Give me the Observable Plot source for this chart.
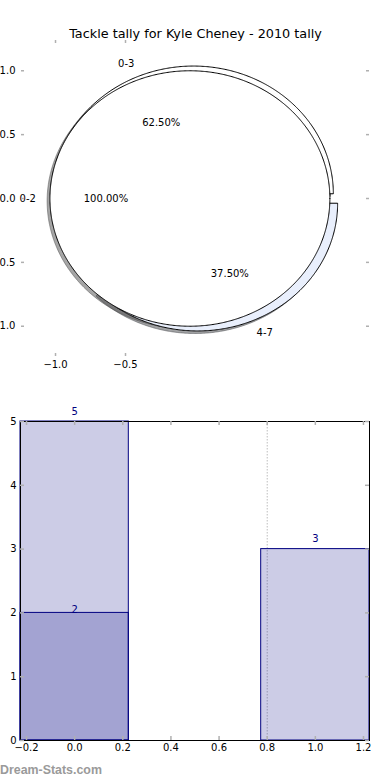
<!DOCTYPE html>
<html><head><meta charset="utf-8">
<script src="https://cdn.jsdelivr.net/npm/d3@7"></script>
<script src="https://cdn.jsdelivr.net/npm/@observablehq/plot@0.6"></script>
<style>
html,body{margin:0;padding:0;background:#fff;}
#wrap{position:relative;width:390px;height:780px;overflow:hidden;background:#fff;}
#top{position:absolute;left:0;top:0;}
#bottom{position:absolute;left:0;top:380px;}
#wm{position:absolute;left:0;top:762px;font:bold 12.4px "Liberation Sans",Arial,sans-serif;color:#9a9a9a;line-height:16px;white-space:nowrap;}
</style></head><body>
<div id="wrap"><div id="top"></div><div id="bottom"></div><div id="wm">Dream-Stats.com</div></div>
<script>
// ---- data ----
const title = "Tackle tally for Kyle Cheney - 2010 tally";
const pieALabels = ["0-2"];
const pieAValues = [2];
const pieAColors = ["#ffffff"];
const pieBLabels = ["0-3", "4-7"];
const pieBValues = [5, 3];
const pieBColors = ["#ffffff", "#e9effc"];
const barPositions = [0, 1];
const barLightValues = [5, 3];
const barDarkPositions = [0];
const barDarkValues = [2];
const pieXTicks = [-1.0, -0.5];
const pieYTicks = [-1.0, -0.5, 0.0, 0.5, 1.0];
const barXTicks = [-0.2, 0.0, 0.2, 0.4, 0.6, 0.8, 1.0, 1.2];
const barYTicks = [0, 1, 2, 3, 4, 5];
const gridX = [0.8];

// ---- settings ----
const EXPLODE = 0.04, SHADOW = 0.02, LABEL_DIST = 1.1, PCT_DIST = 0.6, BAR_W = 0.45;
const tickColor = "#b0b0b0";
const fmt = d => (d < 0 ? "\u2212" : "") + Math.abs(d).toFixed(1);

function pieLayout(labels, values, colors) {
  const total = d3.sum(values);
  let acc = 0;
  return labels.map((label, i) => {
    const frac = values[i] / total;
    const t0 = acc * 360, t1 = (acc + frac) * 360;
    acc += frac;
    const tm = (t0 + t1) / 2 * Math.PI / 180;
    const cx = EXPLODE * Math.cos(tm), cy = EXPLODE * Math.sin(tm);
    const c = d3.rgb(colors[i]);
    return {
      label, frac, t0, t1, cx, cy, full: frac > 0.9999, color: colors[i],
      shadow: d3.rgb(c.r * 0.3, c.g * 0.3, c.b * 0.3).formatHex(),
      lx: cx + LABEL_DIST * Math.cos(tm), ly: cy + LABEL_DIST * Math.sin(tm),
      px: cx + PCT_DIST * Math.cos(tm), py: cy + PCT_DIST * Math.sin(tm)
    };
  });
}
function wedgePoints(w, ox, oy) {
  const cx = w.cx + ox, cy = w.cy + oy;
  const n = Math.max(2, Math.ceil((w.t1 - w.t0) * 2));
  const pts = [];
  if (!w.full) pts.push({x: cx, y: cy});
  for (let i = 0; i <= n; i++) {
    const t = (w.t0 + (w.t1 - w.t0) * i / n) * Math.PI / 180;
    pts.push({x: cx + Math.cos(t), y: cy + Math.sin(t)});
  }
  if (!w.full) pts.push({x: cx, y: cy});
  return pts;
}

const A = pieLayout(pieALabels, pieAValues, pieAColors);
const B = pieLayout(pieBLabels, pieBValues, pieBColors);
const drawOrder = [...B, ...A];
const allW = [...A, ...B];

const W1 = 390 - 21 - 21, H1 = 380 - 40 - 24;
const topPlot = Plot.plot({
  width: 390, height: 380,
  marginLeft: 21, marginRight: 21, marginTop: 40, marginBottom: 24,
  x: {domain: [-1.243, 1.243], axis: null},
  y: {domain: [-1.237, 1.237], axis: null},
  style: {fontFamily: "DejaVu Sans", fontSize: "10px", background: "white", overflow: "visible"},
  marks: [
    ...drawOrder.map(w => Plot.line(wedgePoints(w, -SHADOW, -SHADOW), {x: "x", y: "y", curve: "linear", fill: w.shadow, fillOpacity: 0.5, stroke: w.shadow, strokeOpacity: 0.5, strokeWidth: 1})),
    ...drawOrder.map(w => Plot.line(wedgePoints(w, 0, 0), {x: "x", y: "y", curve: "linear", fill: w.color, stroke: "black", strokeWidth: 1})),
    Plot.text(allW.filter(w => w.lx < 0), {x: "lx", y: "ly", text: "label", textAnchor: "end"}),
    Plot.text(allW.filter(w => w.lx >= 0), {x: "lx", y: "ly", text: "label", textAnchor: "start"}),
    Plot.text(allW, {x: "px", y: "py", text: w => (w.frac * 100).toFixed(2) + "%"}),
    Plot.ruleX(pieXTicks, {insetBottom: H1 - 3, stroke: tickColor, strokeWidth: 1.5}),
    Plot.ruleX(pieXTicks, {insetTop: H1 - 3, stroke: tickColor, strokeWidth: 1.5}),
    Plot.ruleY(pieYTicks, {insetRight: W1 - 3, stroke: tickColor, strokeWidth: 1.5}),
    Plot.ruleY(pieYTicks, {insetLeft: W1 - 3, stroke: tickColor, strokeWidth: 1.5}),
    Plot.axisX(pieXTicks, {anchor: "bottom", tickSize: 0, tickPadding: 4, tickFormat: fmt, label: null}),
    Plot.axisY(pieYTicks, {anchor: "left", tickSize: 0, tickPadding: 6, tickFormat: fmt, label: null}),
    Plot.text([title], {frameAnchor: "top", dy: -11.5, fontSize: 12.8})
  ]
});
document.getElementById("top").appendChild(topPlot);

const bars = barPositions.map((p, i) => ({pos: p, value: barLightValues[i]}));
const darkBars = barDarkPositions.map((p, i) => ({pos: p, value: barDarkValues[i]}));
const W2 = 390 - 20 - 21, H2 = 380 - 41 - 20;
const barOpts = {x1: d => d.pos - BAR_W / 2, x2: d => d.pos + BAR_W / 2, y1: d => 0, y2: "value", fill: "navy", fillOpacity: 0.2, stroke: "navy", strokeWidth: 1};
const bottomPlot = Plot.plot({
  width: 390, height: 380,
  marginLeft: 20, marginRight: 21, marginTop: 41, marginBottom: 20,
  x: {domain: [-0.225, 1.225], axis: null},
  y: {domain: [0, 5], axis: null},
  style: {fontFamily: "DejaVu Sans", fontSize: "10px", background: "white", overflow: "visible"},
  marks: [
    Plot.ruleX(gridX, {stroke: "#bdbdbd", strokeDasharray: "1.5,1.5", strokeWidth: 1}),
    Plot.rect(darkBars, barOpts),
    Plot.text(darkBars, {x: "pos", y: "value", text: d => String(d.value), fill: "navy", lineAnchor: "bottom", dy: 0}),
    Plot.rect(bars, barOpts),
    Plot.text(bars, {x: "pos", y: "value", text: d => String(d.value), fill: "navy", lineAnchor: "bottom", dy: -7}),
    Plot.frame({stroke: "black", strokeWidth: 1}),
    Plot.ruleX(barXTicks, {insetBottom: H2 - 4, stroke: tickColor, strokeWidth: 1.5}),
    Plot.ruleX(barXTicks, {insetTop: H2 - 4, stroke: tickColor, strokeWidth: 1.5}),
    Plot.ruleY(barYTicks, {insetRight: W2 - 4, stroke: tickColor, strokeWidth: 1.5}),
    Plot.ruleY(barYTicks, {insetLeft: W2 - 4, stroke: tickColor, strokeWidth: 1.5}),
    Plot.axisX(barXTicks, {anchor: "bottom", tickSize: 0, tickPadding: 3, tickFormat: fmt, label: null}),
    Plot.axisY(barYTicks, {anchor: "left", tickSize: 0, tickPadding: 4, tickFormat: d => String(d), label: null})
  ]
});
document.getElementById("bottom").appendChild(bottomPlot);
</script>
</body></html>
